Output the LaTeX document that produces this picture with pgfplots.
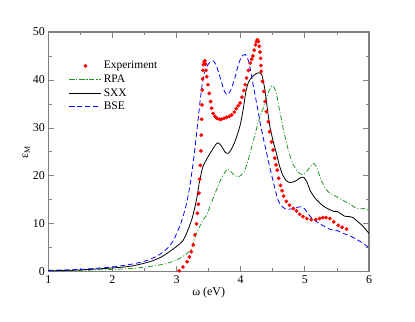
\documentclass[border=0pt]{standalone}
\usepackage{fontspec}
\setmainfont{Liberation Serif}
\usepackage{pgfplots}
\pgfplotsset{compat=1.18}
\usetikzlibrary{calc}

\definecolor{rpagreen}{RGB}{34,150,34}
\definecolor{bseblue}{RGB}{0,0,255}
\definecolor{axgray}{RGB}{128,128,128}

\begin{document}
\begin{tikzpicture}
\begin{axis}[
    name=ax,
    scale only axis, width=321bp, height=240bp,
    xmin=1, xmax=6, ymin=0, ymax=50,
    xtick={1,2,3,4,5,6}, ytick={0,10,20,30,40,50},
    minor x tick num=1, minor y tick num=1,
    tick align=inside, major tick length=6bp, minor tick length=3.5bp,
    axis line style={axgray, line width=1.3pt},
    every tick/.style={axgray, line width=0.8pt},
    /pgf/number format/assume math mode=true,
    tick label style={font=\fontsize{12}{14}\selectfont},
    label style={font=\fontsize{12}{14}\selectfont},
    xlabel={ω (eV)}, ylabel={ε\textsubscript{M}},
    xlabel style={yshift=3bp}, ylabel style={yshift=-4bp},
    legend style={draw=none, fill=none, at={(0.055,0.895)}, anchor=north west,
        font=\fontsize{11.5}{13}\selectfont, row sep=0.5bp},
    legend cell align=left,
    legend image code/.code={\draw[mark repeat=2,mark phase=2,#1] plot coordinates {(0bp,0bp) (16bp,0bp) (32bp,0bp)};},
]
% Experiment
\addplot[only marks, mark=*, mark size=1.7pt, red, mark options={draw=red, fill=red}] coordinates {
(3.04,0.2)(3.10,1.0)(3.165,2.1)(3.20,3.1)(3.23,4.2)(3.26,5.6)(3.285,7.7)(3.31,10)(3.325,12.2)(3.34,14.1)
(3.35,16.4)(3.36,19.3)(3.37,22.2)(3.38,25.2)(3.385,28.5)(3.39,31.8)(3.395,34.8)(3.40,37.9)(3.405,40.2)(3.41,42)
(3.42,43.2)(3.43,43.8)(3.44,44)(3.45,43.3)(3.46,42)(3.47,40.7)(3.49,39)(3.51,37.2)(3.53,35.5)(3.545,34.1)
(3.57,33)(3.6,32.4)(3.63,32)(3.67,31.8)(3.7,31.8)(3.74,32)(3.78,32.2)(3.82,32.4)(3.86,32.7)(3.9,33.3)
(3.93,34)(3.96,34.6)(3.99,35.2)(4.02,36.4)(4.05,37.8)(4.07,39)(4.09,40.4)(4.12,42)(4.15,43.5)(4.17,44.3)
(4.19,45)(4.21,46.2)(4.23,47.3)(4.245,48)(4.26,48.4)(4.275,48)(4.29,47)(4.30,45.8)(4.31,44.5)(4.315,43)
(4.32,41.8)(4.34,39.7)(4.36,37.6)(4.38,35.5)(4.40,33.4)(4.43,31.3)(4.45,29.2)(4.48,27.1)(4.505,25.4)(4.53,23.7)
(4.55,22.3)(4.57,21.2)(4.59,19.5)(4.62,18)(4.645,16.9)(4.67,15.8)(4.71,14.7)(4.76,13.9)(4.82,13.2)(4.87,12.7)
(4.92,12)(4.97,11.5)(5.03,11.1)(5.1,10.9)(5.17,10.9)(5.23,11.1)(5.28,11.3)(5.33,11.3)(5.39,11.1)(5.45,10.4)
(5.52,9.7)(5.58,9.3)(5.65,8.9)
};
\addlegendentry{Experiment}
% RPA
\addplot[color=rpagreen, line width=0.8pt, smooth, tension=0.4, dash pattern=on 5bp off 2bp on 1bp off 2bp] coordinates {
(1,0.2)(1.5,0.3)(2,0.5)(2.3,0.7)(2.58,1.1)(2.8,1.6)(2.95,2.2)(3.05,2.8)(3.15,3.7)(3.23,4.8)
(3.31,8)(3.41,10.8)(3.47,11.8)(3.545,14.5)(3.62,17)(3.7,19.5)(3.79,21.4)(3.85,20.8)(3.9,20.2)(3.96,19.8)
(4.01,20.2)(4.06,21)(4.12,23.5)(4.17,26)(4.22,28.5)(4.28,31.5)(4.35,34.1)(4.42,37)(4.47,38.5)(4.5,38.8)
(4.55,37.5)(4.61,33.4)(4.66,30)(4.71,27.1)(4.76,24.5)(4.82,22.3)(4.88,21)(4.92,20.5)(4.97,20.3)(5.03,21)
(5.09,22)(5.14,22.6)(5.19,21.5)(5.25,19.3)(5.3,17.8)(5.37,16.6)(5.45,16.0)(5.55,15.2)(5.65,14.5)(5.72,14)
(5.78,13.4)(5.85,13.1)(5.92,13.2)(6,12.8)
};
\addlegendentry{RPA}
% SXX
\addplot[color=black, line width=0.8pt, smooth, tension=0.4] coordinates {
(1,0.2)(1.5,0.4)(2,0.8)(2.3,1.2)(2.58,2.1)(2.75,3.0)(2.9,4.3)(3.0,5.3)(3.1,6.5)(3.18,8.8)
(3.25,11.5)(3.31,15)(3.36,19)(3.41,21.9)(3.47,23.5)(3.55,25.3)(3.62,26.7)(3.65,26.9)(3.7,26.2)(3.76,24.9)
(3.81,24.7)(3.86,25.7)(3.92,27.5)(3.99,30.5)(4.04,34)(4.08,37.5)(4.12,39.5)(4.18,40.7)(4.24,41.3)(4.29,41.5)
(4.33,41)(4.37,38.5)(4.41,34.5)(4.45,30.6)(4.5,27.5)(4.56,24.5)(4.6,22.3)(4.65,20.3)(4.71,19)(4.77,18.6)
(4.85,18.9)(4.93,19.6)(4.98,19.7)(5.03,18.8)(5.08,17)(5.15,15.5)(5.22,14.5)(5.3,13.6)(5.38,13)(5.45,12.6)
(5.5,12.6)(5.55,12.2)(5.62,11.6)(5.7,11.5)(5.76,11.2)(5.83,10.4)(5.9,9.6)(5.95,8.8)(6,8)
};
\addlegendentry{SXX}
% BSE
\addplot[color=bseblue, line width=0.8pt, smooth, tension=0.4, dash pattern=on 5bp off 3bp] coordinates {
(1,0.3)(1.5,0.5)(2,1.0)(2.3,1.6)(2.5,2.2)(2.7,3.3)(2.85,4.8)(2.95,6.5)(3.0,8)(3.05,9.5)
(3.1,11.5)(3.16,14.5)(3.22,19)(3.28,25)(3.33,31)(3.37,36)(3.41,40)(3.46,42.5)(3.52,43.7)(3.57,44)
(3.62,43)(3.68,40.5)(3.74,37.8)(3.79,36.9)(3.84,37.8)(3.9,40)(3.96,43)(4.01,44.8)(4.07,45.3)(4.12,44)
(4.16,41.5)(4.2,38.5)(4.25,35)(4.3,31.3)(4.35,28)(4.4,25)(4.44,22.5)(4.48,20.3)(4.53,17.5)(4.58,15)
(4.63,13.8)(4.7,13.1)(4.8,13.1)(4.9,13.5)(4.97,13.5)(5.03,12.5)(5.1,11.3)(5.2,10.3)(5.3,9.5)(5.4,8.8)
(5.5,8.6)(5.6,8.0)(5.7,7.5)(5.8,6.8)(5.9,6)(6,5)
};
\addlegendentry{BSE}
\end{axis}
\path ($(ax.south west)+(-48.3bp,-49.3bp)$) rectangle ($(ax.north east)+(46bp,32bp)$);
\end{tikzpicture}
\end{document}
